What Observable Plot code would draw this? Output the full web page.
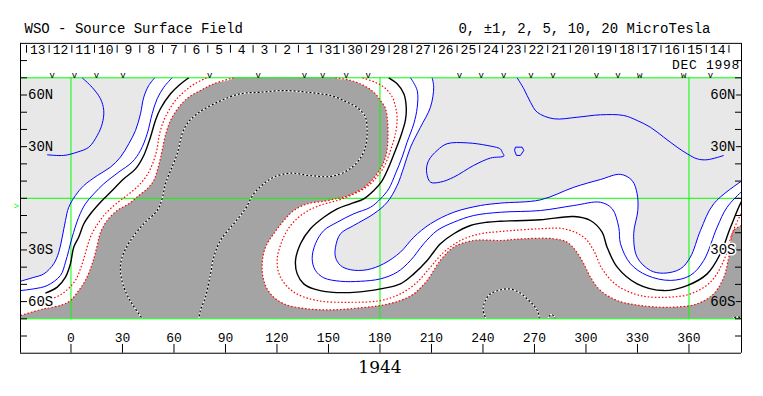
<!DOCTYPE html>
<html><head><meta charset="utf-8">
<script src="https://cdn.jsdelivr.net/npm/d3@7"></script>
<script src="https://cdn.jsdelivr.net/npm/@observablehq/plot@0.6"></script>
<style>body{margin:0;background:#fff;} #chart svg{display:block}</style>
</head><body><div id="chart"></div>
<script>
// ---- data (longitude, latitude in degrees) ----
const dayLabels = ["13","12","11","10","9","8","7","6","5","4","3","2","1","31","30","29","28","27","26","25","24","23","22","21","20","19","18","17","16","15","14"];
const obsLons = [-11.0, 2.0, 14.8, 30.3, 80.8, 109.0, 136.0, 146.6, 160.3, 173.1, 226.3, 238.9, 252.1, 268.0, 280.8, 306.1, 318.7, 330.6, 332.0, 356.2, 357.6, 372.5];
const lonTicks = [0, 30, 60, 90, 120, 150, 180, 210, 240, 270, 300, 330, 360];
const latTicks = [-70, -60, -50, -40, -30, -20, -10, 0, 10, 20, 30, 40, 50, 60, 70];
const latLabelValues = [60, 30, -30, -60];
const latLabelText = ["60N", "30N", "30S", "60S"];
const titleText = "WSO - Source Surface Field";
const legendText = "0, \u00b11, 2, 5, 10, 20 MicroTesla";
const monthText = "DEC 1998";
const rotationText = "1944";

// +2 contour, west branch
const contourP2West = [[48.8,70],[45.3,65.5],[42.4,58.7],[40.5,49.1],[37.6,39.4],[33.7,31.7],[28.8,23.9],[23.0,18.1],[15.3,13.2],[7.5,7.4],[2.6,1.6],[-1.3,-5.2],[-3.2,-12.9],[-5.1,-22.6],[-7.1,-31.3],[-10.0,-38.0],[-15.8,-43.9],[-22.6,-46.2],[-29.4,-48.2],[-31,-48.8]];
// +1 contour, west branch
const contourP1West = [[58.9,70],[54.1,64.5],[50.2,57.8],[47.3,49.1],[44.4,37.5],[40.5,27.8],[35.6,21.0],[27.8,15.2],[19.1,8.4],[13.3,2.6],[8.4,-3.2],[4.5,-11.0],[0.7,-22.6],[-1.3,-30.3],[-3.2,-37.1],[-6.1,-44.8],[-13.9,-50.7],[-21.7,-52.6],[-29.4,-53.6],[-31,-53.8]];
// neutral line, west branch
const contourZeroWest = [[68.6,70],[62.8,65.5],[58.0,60.7],[52.1,52.0],[49.2,45.2],[46.3,35.5],[42.4,24.9],[37.6,17.1],[30.8,11.3],[23.0,3.5],[17.2,-2.3],[11.4,-9.0],[7.5,-14.8],[4.5,-22.6],[1.6,-28.4],[-0.3,-38.0],[-3.2,-45.8],[-8.0,-51.6],[-14.9,-55.1]];
// -1 contour, west branch
const contourM1West = [[79,70],[72,66.5],[66,62],[61,57],[57,51],[54,45],[51.5,37],[50,28],[47.5,20],[44,13],[39,7],[33,2],[26.5,-3],[20,-9],[15.5,-15],[12,-21],[9.5,-28],[7.5,-35],[5.5,-41],[3,-47],[-1,-52],[-6,-56],[-11,-58.3]];
// -2 contour, west branch
const contourM2West = [[94.7,70],[83.2,66.5],[75.4,62.6],[68.6,58.7],[62.8,52.9],[58.0,45.2],[55.0,36.5],[53.1,27.8],[51.1,19.1],[48.2,10.3],[44.4,5.5],[39.5,1.6],[33.7,-3.2],[26.9,-7.1],[21.1,-12.9],[17.2,-19.9],[15.3,-27.4],[13.3,-35.0],[11.4,-40.8],[8.4,-47.7],[4.5,-53.6],[-0.3,-59.4],[-5.1,-61.9],[-15.8,-64.2],[-29.4,-68.1],[-31,-68.6]];
// -5 contour, large negative region
const contourM5 = [[42.4,-71],[35.6,-61.3],[30.8,-51.6],[28.8,-41.9],[29.8,-34.2],[34.7,-24.5],[42.4,-14.8],[50.2,-7.1],[53.1,-0.3],[55.0,8.4],[58.0,16.1],[61.9,25.9],[64.8,37.5],[67.7,43.3],[73.5,49.1],[85.2,55.8],[98.7,60.7],[110.4,61.6],[124.0,62.6],[137.6,61.6],[151.2,59.7],[160.9,55.8],[167.6,52.0],[171.5,47.1],[172.5,39.4],[171.5,29.7],[167.6,22.0],[160.9,16.1],[151.2,12.7],[139.5,13.2],[127.9,14.6],[118.1,12.3],[112.3,8.4],[106.5,2.6],[101.6,-6.1],[94.8,-14.8],[87.1,-24.5],[83.2,-34.2],[81.3,-43.9],[78.3,-57.5],[75.4,-65.2],[74.4,-71]];
// -2 contour, east branch
const contourM2East = [[154.1,70],[162.8,68.5],[170.6,65.5],[176.4,61.6],[180.3,56.8],[183.2,52.2],[184.4,45.2],[184.7,36.5],[184.1,27.8],[182.6,22.0],[180.3,17.3],[176.2,11.5],[171.5,6.9],[165.7,3.4],[159.9,1.0],[155.2,-0.1],[148.2,-1.6],[137.8,-3.2],[129.8,-7.1],[124.0,-12.9],[118.1,-20.6],[113.3,-28.4],[111.4,-38.0],[112.3,-47.7],[116.2,-55.5],[124.0,-61.3],[137.6,-64.2],[153.1,-64.8],[168.6,-63.6],[180.3,-62.3],[191.9,-59.4],[199.7,-55.5],[207.5,-47.7],[215.2,-36.1],[223.0,-28.4],[234.6,-24.5],[250.2,-24.5],[263.8,-23.5],[281.2,-23.5],[289.0,-25.5],[293.9,-30.3],[298.7,-38.0],[302.6,-45.8],[308.4,-53.5],[318.2,-59.4],[331.7,-62.3],[349.2,-63.3],[364.8,-61.3],[374.4,-55.5],[380.3,-45.8],[383.2,-34.2],[386.1,-18.7],[390.6,-15.8],[392,-15.2]];
// -1 contour, east branch
const contourM1East = [[169.8,70],[177.4,67.3],[183.2,63.8],[187.3,58.6],[189.0,53.3],[190.0,47.1],[189.0,37.5],[186.1,27.8],[182.2,18.1],[176.4,10.3],[170.6,5.5],[162.8,1.6],[155.1,-1.3],[146.5,-3.6],[138.3,-7.1],[131.8,-11.7],[125.9,-18.7],[122.0,-27.4],[120.1,-36.1],[122.0,-45.8],[129.8,-54.5],[143.4,-59.4],[162.8,-60.4],[180.3,-59.4],[191.9,-55.5],[201.7,-48.7],[209.4,-40.0],[217.2,-31.3],[226.9,-24.5],[238.5,-20.6],[250.2,-19.3],[273.5,-17.7],[287.1,-17.7],[298.7,-22.6],[304.5,-30.3],[309.4,-41.0],[318.2,-50.7],[331.7,-56.5],[347.3,-57.5],[360.9,-55.5],[372.5,-48.7],[380.3,-36.1],[385.1,-20.6],[391.0,-8.1],[392,-7.4]];
// neutral line, east branch
const contourZeroEast = [[185.1,70],[190.0,66.5],[193.9,60.7],[195.3,52.9],[194.8,45.2],[191.9,35.5],[189.0,27.8],[185.1,18.1],[181.3,10.3],[176.4,4.5],[170.6,-0.3],[162.8,-3.2],[155.1,-6.1],[147.3,-11.0],[139.5,-17.7],[133.7,-26.4],[130.8,-36.1],[131.8,-43.9],[135.6,-49.7],[141.4,-52.6],[151.2,-54.5],[166.7,-54.5],[180.3,-52.6],[191.9,-49.7],[199.7,-43.9],[207.5,-36.1],[215.2,-26.4],[223.0,-20.6],[232.7,-15.8],[242.4,-13.9],[250.2,-13.3],[273.5,-12.5],[292.9,-10.6],[302.6,-12.9],[309.4,-19.7],[312.3,-28.4],[318.2,-40.0],[329.8,-49.7],[345.3,-53.6],[358.9,-50.7],[370.6,-43.9],[378.3,-32.2],[384.2,-16.8],[391.0,-1.3],[392,-0.6]];
// +1 contour, east branch
const contourP1East = [[197.8,70],[201.7,62.6],[201.7,52.9],[199.7,43.3],[195.8,32.6],[192.9,23.9],[189.0,14.2],[185.1,5.5],[180.3,-0.3],[174.5,-5.2],[164.7,-9.0],[155.1,-13.9],[147.3,-18.7],[142.4,-26.4],[140.5,-35.1],[142.4,-41.9],[147.3,-46.2],[157.0,-48.2],[168.6,-48.2],[180.3,-46.8],[190.0,-42.9],[197.8,-36.1],[205.5,-26.4],[213.3,-18.7],[223.0,-13.9],[234.6,-10.0],[250.2,-8.1],[273.5,-7.1],[292.9,-4.2],[308.4,-2.3],[315.3,-6.1],[319.1,-16.8],[320.1,-26.4],[325.9,-38.0],[335.6,-44.8],[349.2,-47.7],[360.8,-44.8],[368.6,-36.1],[376.4,-16.8],[382.2,-5.2],[391.0,4.1],[392,4.7]];
// +2 contour, east branch
const contourP2East = [[210.4,70],[211.3,64.5],[209.4,52.9],[203.6,41.3],[197.8,29.7],[193.9,18.1],[190.0,7.4],[184.2,-2.3],[176.4,-9.0],[164.7,-15.8],[157.0,-20.6],[154.1,-28.4],[154.1,-34.2],[157.0,-39.0],[162.8,-41.5],[172.5,-41.5],[182.2,-38.0],[191.9,-31.3],[199.7,-22.6],[209.4,-14.8],[223.0,-8.1],[238.5,-4.2],[250.2,-2.8],[273.5,-0.9],[292.9,6.4],[308.4,10.9],[320.1,13.9],[326.9,10.3],[329.8,2.6],[330.2,-7.1],[327.8,-20.6],[329.8,-34.2],[337.5,-41.9],[345.3,-43.5],[355.0,-41.0],[360.8,-34.2],[366.7,-18.7],[374.4,-3.2],[391.0,10.3],[392,11.0]];
// +5 contours
const contourP5West = [[6.5,70],[12.3,64.5],[17.2,57.8],[19.1,51.0],[18.2,43.3],[15.3,36.5],[10.4,29.7],[3.6,26.8],[-4.2,24.9],[-13.9,25.3]];
const contourP5Mid = [[207.1,16.1],[208.4,22.0],[213.3,27.8],[219.1,31.7],[230.8,32.2],[242.4,30.7],[250.2,28.6],[251.3,26.6],[252.2,24.6],[244.4,23.4],[234.6,19.1],[223.0,12.3],[215.2,9.4],[209.4,9.4]];
const contourP5Small = [[258.9,29.7],[262.8,29.7],[263.8,27.8],[261.8,24.9],[259.5,24.9],[258.4,27.8]];
const contourP5East = [[259.9,70],[263.8,63.6],[267.7,55.8],[271.6,50.0],[281.2,46.2],[294.9,47.1],[308.4,48.5],[322.0,48.1],[329.8,45.2],[337.5,41.3],[345.3,35.5],[353.1,29.7],[358.9,25.9],[364.8,22.9],[370.6,22.4],[380.3,24.9]];
// -5 contours near the south edge
const contourM5South = [[242.4,-71],[240.1,-65.2],[241.4,-59.4],[244.4,-55.5],[250.2,-53.2],[255.0,-52.6],[260.8,-54.5],[265.7,-58.4],[269.6,-62.3],[272.1,-66.2],[272.9,-71]];
const contourM5Bump = [[278.0,-71],[278.4,-68.6],[280.0,-67.6],[281.6,-68.6],[282.0,-71]];
const contourM5Corner = [[385.0,-71],[386.0,-69.4],[388.0,-69.0],[390.6,-69.3]];

// ---- layout constants ----
const X0 = -29.4, X1 = 390.6;          // plot x extent (deg)
const degPerPx = 420 / 721;
const sepStart = -25.9, sepStep = 13.2; // day separators along the top
const daySeps = d3.range(dayLabels.length + 1).map(i => sepStart + i * sepStep);
const dayPos = dayLabels.map((t, i) => ({t, lon: sepStart + (i + 0.5) * sepStep}));

// observation marks: two close marks are drawn as one "w" glyph
const obsMarks = [];
for (let i = 0; i < obsLons.length; i++) {
  if (i + 1 < obsLons.length && obsLons[i + 1] - obsLons[i] < 2) {
    obsMarks.push({lon: (obsLons[i] + obsLons[i + 1]) / 2, g: "w"}); i++;
  } else obsMarks.push({lon: obsLons[i], g: "v"});
}

const xy = {x: d => d[0], y: d => d[1]};
const smooth = {curve: "catmull-rom", clip: true, strokeLinecap: "butt", strokeLinejoin: "round"};

const whiteRegion = [[48.8, 75], ...contourP2West, [-35, -48.8], [-35, -75], [395, -75], [395, 10.3], ...contourP2East.slice().reverse(), [210.4, 75]];
const darkRegion = [[-35, -75], [-35, -68.6], ...contourM2West.slice().reverse(), [94.7, 75], [154.1, 75], ...contourM2East, [395, -15.2], [395, -75]];

const BLUE = "#0000ff", RED = "#ff0000", GREEN = "#00ff00", DARK = "#a4a4a4", LIGHT = "#e8e8e8";
const mono = "Liberation Mono";
const blueLine = d => Plot.line(d, {...xy, ...smooth, stroke: BLUE, strokeWidth: 1});
const redLine = d => Plot.line(d, {...xy, ...smooth, stroke: RED, strokeWidth: 1.2, strokeDasharray: "1.5,2"});
const blackLine = d => Plot.line(d, {...xy, ...smooth, stroke: "#000", strokeWidth: 1.4});
const m5Line = (d, curve) => [
  Plot.line(d, {...xy, ...smooth, curve: curve || "catmull-rom", stroke: "#fff", strokeWidth: 1.2}),
  Plot.line(d, {...xy, ...smooth, curve: curve || "catmull-rom", stroke: "#000", strokeWidth: 1.2, strokeDasharray: "2,2"})
];

const halo = {"60N": LIGHT, "30N": LIGHT, "30S": LIGHT, "60S": "#fff"};
const haloR = {"60N": LIGHT, "30N": LIGHT, "30S": "#fff", "60S": DARK};
const latLabels = latLabelValues.map((v, i) => ({v, t: latLabelText[i]}));

const chart = Plot.plot({
  width: 763, height: 396,
  marginLeft: 20, marginRight: 22, marginTop: 77.3, marginBottom: 77.7,
  x: {domain: [X0, X1], axis: null},
  y: {domain: [-70, 70], axis: null},
  style: {fontFamily: mono, fontSize: "14px", background: "#fff", color: "#000", overflow: "visible"},
  marks: [
    Plot.frame({fill: LIGHT, stroke: "none"}),
    Plot.line(whiteRegion, {...xy, curve: "catmull-rom", clip: true, fill: "#fff", stroke: "none"}),
    Plot.line(darkRegion, {...xy, curve: "catmull-rom", clip: true, fill: DARK, stroke: "none"}),
    // green reference lines
    Plot.ruleX([0, 180, 360], {y1: -70, y2: 70, stroke: GREEN, strokeWidth: 1}),
    Plot.ruleY([0, 70, -70], {x1: X0, x2: X1, stroke: GREEN, strokeWidth: 1}),
    // contours
    ...m5Line(contourM5), ...m5Line(contourM5South), ...m5Line(contourM5Bump), ...m5Line(contourM5Corner),
    redLine(contourM2West), redLine(contourM1West), redLine(contourM2East), redLine(contourM1East),
    blackLine(contourZeroWest), blackLine(contourZeroEast),
    blueLine(contourP1West), blueLine(contourP2West), blueLine(contourP1East), blueLine(contourP2East),
    blueLine(contourP5West), blueLine(contourP5East),
    Plot.line(contourP5Mid, {...xy, ...smooth, curve: "catmull-rom-closed", stroke: BLUE, strokeWidth: 1}),
    Plot.line(contourP5Small, {...xy, ...smooth, curve: "linear-closed", stroke: BLUE, strokeWidth: 1}),
    // outer box
    Plot.ruleX([X0, X1], {y1: -90, y2: 90, stroke: "#000", strokeWidth: 1}),
    Plot.ruleY([90, -90], {x1: X0, x2: X1, stroke: "#000", strokeWidth: 1}),
    // latitude ticks
    Plot.ruleY(latTicks, {x1: X0, x2: X0 + 7 * degPerPx, stroke: "#000"}),
    Plot.ruleY(latTicks, {x1: X1 - 6 * degPerPx, x2: X1, stroke: "#000"}),
    Plot.ruleY([80, -80], {x1: X0, x2: X0 + 7 * degPerPx, stroke: "#000"}),
    Plot.ruleY([80, -80], {x1: X1 - 6 * degPerPx, x2: X1, stroke: "#000"}),
    Plot.text(latLabels, {x: X0 + 7.5 * degPerPx, y: "v", text: "t", textAnchor: "start", fontSize: 14, fontFamily: mono, fill: "#000", stroke: d => halo[d.t], strokeWidth: 3}),
    Plot.text(latLabels, {x: X1 - 6 * degPerPx, y: "v", text: "t", textAnchor: "end", fontSize: 14, fontFamily: mono, fill: "#000", stroke: d => haloR[d.t], strokeWidth: 3}),
    // longitude axis
    Plot.ruleX(lonTicks, {y1: -90, y2: -84.9, stroke: "#000"}),
    Plot.text(lonTicks, {x: d => d, y: -81.2, text: d => String(d), fontSize: 13, fontFamily: mono, fill: "#000"}),
    Plot.text([rotationText], {x: 180, y: -98.3, text: d => d, fontSize: 17, fontFamily: "DejaVu Serif", fill: "#000"}),
    // header: day ticks, labels, observation marks
    Plot.ruleX(daySeps, {y1: 88.8, y2: 84.3, stroke: "#000"}),
    Plot.text(dayPos, {x: "lon", y: 86.5, text: "t", fontSize: 13, fontFamily: mono, fill: "#000"}),
    Plot.text(obsMarks, {x: "lon", y: 71.4, text: "g", fontSize: 9, fontFamily: mono, fill: "#000"}),
    Plot.text([monthText], {x: X1 - 1.5 * degPerPx, y: 77.8, text: d => d, textAnchor: "end", fontSize: 13, fontFamily: mono, fill: "#000", className: "month"}),
    Plot.text([titleText], {x: X0 + 4 * degPerPx, y: 98.8, text: d => d, textAnchor: "start", fontSize: 14, fontFamily: mono, fill: "#000"}),
    Plot.text([legendText], {x: X0 + 690 * degPerPx, y: 98.8, text: d => d, textAnchor: "end", fontSize: 14, fontFamily: mono, fill: "#000"}),
    Plot.text([">"], {x: X0 - 1.5 * degPerPx, y: -4.3, text: d => d, textAnchor: "end", fontSize: 9, fontFamily: mono, fill: GREEN})
  ]
});
d3.select(chart).selectAll(".month text").style("letter-spacing", "0.7px");
document.getElementById("chart").appendChild(chart);
</script>
</body></html>
